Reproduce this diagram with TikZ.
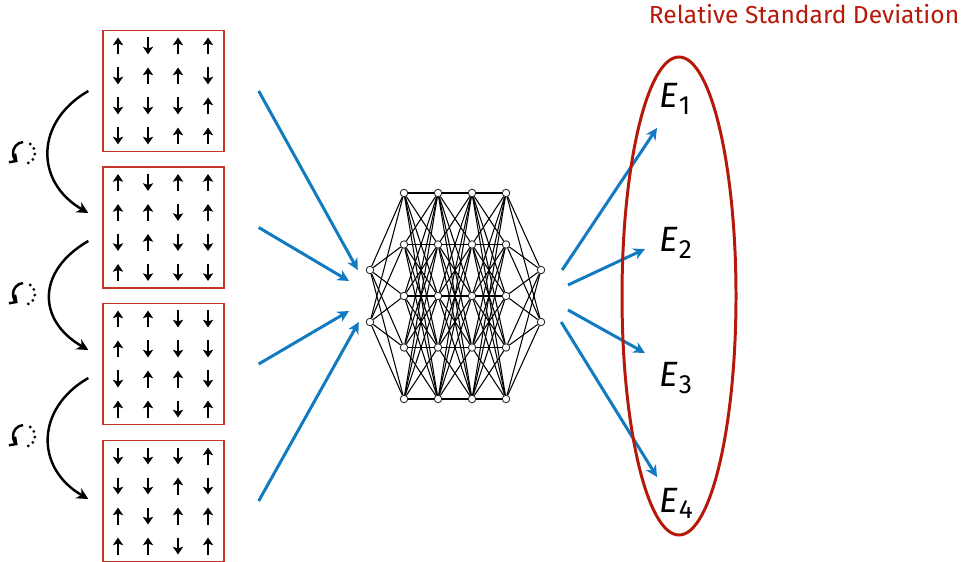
\documentclass[tikz,border=0pt]{standalone}
\usepackage{fontspec}
\setmainfont{Fira Sans}
\usetikzlibrary{arrows.meta}

\definecolor{rsdred}{RGB}{182,24,10}
\definecolor{boxred}{RGB}{196,52,40}
\definecolor{feedblue}{RGB}{18,122,192}

\tikzset{
  spinbox/.style={draw=boxred, line width=0.8pt, minimum size=2.42cm, inner sep=0pt},
  spin/.style={line width=1.4pt, -{Stealth[length=4.4pt,width=5.8pt,inset=1pt]}},
  neuron/.style={circle, draw=black!85, fill=white, line width=0.5pt, minimum size=0.15cm, inner sep=0pt},
  synapse/.style={black, line width=0.6pt},
  feed/.style={feedblue, line width=1.7pt, -{Stealth[length=6.5pt,width=6.5pt,inset=2pt]}},
  mcstep/.style={black, line width=1.4pt, -{Stealth[length=6.5pt,width=6.5pt,inset=2pt]}},
  energy/.style={anchor=base west, inner sep=0pt, font=\fontsize{20}{24}\selectfont},
}

% spins of one lattice, row by row (1 = up, -1 = down)
\newcommand{\spingrid}[2]{%
  \foreach \s [count=\n from 0] in {#2} {
    \pgfmathtruncatemacro\spcol{mod(\n,4)}
    \pgfmathtruncatemacro\sprow{\n/4}
    \draw[spin] ({118+30*\spcol},{#1+45-30*\sprow-8.5*\s}) -- ++(0,{17*\s});
  }%
}
\newcommand{\elab}[1]{\textit{E}\kern0.5pt\raisebox{-3.8pt}{\fontsize{15}{18}\selectfont #1}}

\begin{document}
\begin{tikzpicture}[x=0.02cm, y=0.02cm]
  \useasboundingbox (0,0) rectangle (962,561);

  % --- spin configurations ---
  \node[spinbox] (s1) at (163.5,470) {};
  \node[spinbox] (s2) at (163.5,333.5) {};
  \node[spinbox] (s3) at (163.5,197) {};
  \node[spinbox] (s4) at (163.5,60) {};

  \spingrid{470}{1,-1,1,1, -1,1,1,-1, -1,-1,-1,1, -1,-1,1,1}
  \spingrid{333.5}{1,-1,1,1, 1,1,-1,1, -1,1,-1,-1, 1,-1,-1,-1}
  \spingrid{197}{1,1,-1,-1, 1,-1,-1,-1, -1,1,1,-1, 1,1,-1,1}
  \spingrid{60}{-1,-1,-1,1, -1,-1,1,-1, 1,-1,1,1, 1,1,-1,1}

  % --- Monte Carlo steps ---
  \draw[mcstep] ([xshift=-0.28cm]s1.west) to[out=210, in=150, looseness=1.3] ([xshift=-0.28cm, yshift=0.29cm]s2.west);
  \draw[mcstep] ([xshift=-0.28cm, yshift=-0.27cm]s2.west) to[out=210, in=150, looseness=1.4] ([xshift=-0.28cm, yshift=0.28cm]s3.west);
  \draw[mcstep] ([xshift=-0.28cm, yshift=-0.28cm]s3.west) to[out=210, in=150, looseness=1.3] ([xshift=-0.28cm, yshift=0.04cm]s4.west);

  % rotation symbols
  \foreach \cy in {408,267,125} {
    \draw[line width=1.4pt, -{Straight Barb[length=3pt,width=6pt]}] (24,\cy) ++(95:0.22cm) arc[start angle=95, end angle=235, radius=0.22cm];
    \draw[line width=1.8pt, line cap=round, dash pattern=on 0pt off 3.3pt] (24,\cy) ++(55:0.22cm) arc[start angle=55, end angle=-85, radius=0.22cm];
  }

  % --- neural network ---
  \foreach \i/\y in {1/291, 2/239}
    \node[neuron] (in\i) at (370,\y) {};
  \foreach \l/\x in {1/404, 2/438, 3/472, 4/506}
    \foreach \j/\y in {1/368, 2/316.5, 3/265, 4/213.5, 5/162}
      \node[neuron] (h\l\j) at (\x,\y) {};
  \foreach \i/\y in {1/291, 2/239}
    \node[neuron] (out\i) at (541,\y) {};

  \foreach \i in {1,2}
    \foreach \j in {1,...,5}
      \draw[synapse] (in\i) -- (h1\j);
  \foreach \l [evaluate=\l as \m using int(\l+1)] in {1,2,3}
    \foreach \j in {1,...,5}
      \foreach \k in {1,...,5}
        \draw[synapse] (h\l\j) -- (h\m\k);
  \foreach \j in {1,...,5}
    \foreach \i in {1,2}
      \draw[synapse] (h4\j) -- (out\i);

  % --- inputs to the network ---
  \draw[feed] ([xshift=0.68cm]s1.east) -- ([xshift=-0.16cm]in1.west);
  \draw[feed] ([xshift=0.68cm]s2.east) -- ([shift={(-21,-11)}]in1.center);
  \draw[feed] ([xshift=0.68cm]s3.east) -- ([shift={(-21,11)}]in2.center);
  \draw[feed] ([xshift=0.68cm]s4.east) -- ([xshift=-0.14cm]in2.west);

  % --- energies ---
  \node[energy] (e1) at (659,453) {\elab{1}};
  \node[energy] (e2) at (659,309) {\elab{2}};
  \node[energy] (e3) at (659,174) {\elab{3}};
  \node[energy] (e4) at (659,49) {\elab{4}};

  \draw[feed] ([xshift=0.34cm]out1.east) -- ([shift={(-2,-20)}]e1.base west);
  \draw[feed] ([shift={(27,-15)}]out1.center) -- ([shift={(-14,3)}]e2.base west);
  \draw[feed] ([shift={(27,12)}]out2.center) -- ([shift={(-14,34)}]e3.base west);
  \draw[feed] ([xshift=0.32cm]out2.east) -- ([shift={(-2,35)}]e4.base west);

  % relative standard deviation of the outputs
  \draw[rsdred, line width=1.7pt] (679,265) ellipse [x radius=57, y radius=239];
  \node[anchor=base, rsdred, font=\fontsize{14}{17}\selectfont] (rsd) at (804,537) {Relative Standard Deviation};
\end{tikzpicture}
\end{document}
